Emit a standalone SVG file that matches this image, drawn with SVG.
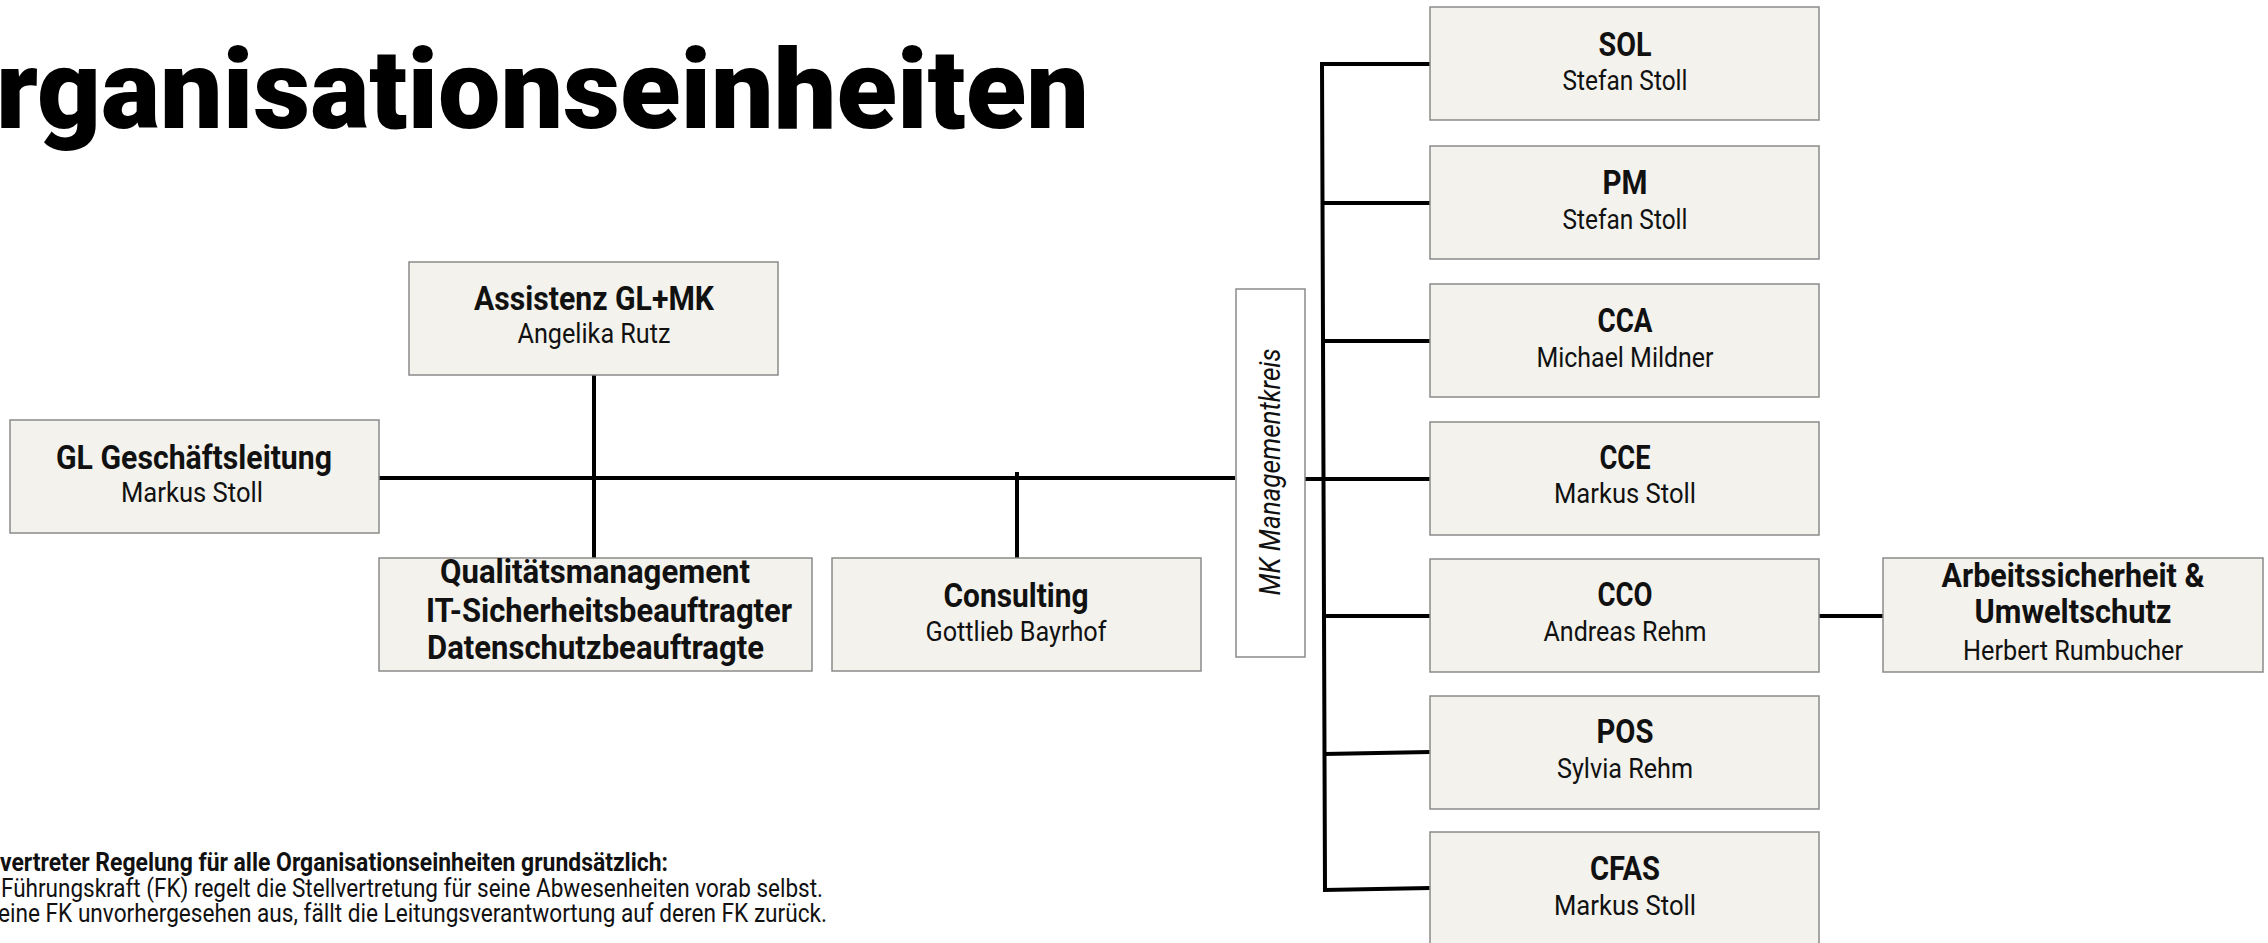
<svg xmlns="http://www.w3.org/2000/svg" width="2268" height="943" viewBox="0 0 2268 943">
<style>
.bg{fill:#ffffff}
.box{fill:#f3f2ec;stroke:#8a8a8a;stroke-width:1.5}
.mk{fill:#ffffff;stroke:#8a8a8a;stroke-width:1.5}
.t{font-family:Roboto,"Liberation Sans",sans-serif;font-weight:700;font-size:32.5px;fill:#111;text-anchor:middle}
.n{font-family:Roboto,"Liberation Sans",sans-serif;font-weight:400;font-size:28px;fill:#111;text-anchor:middle}
.ts{font-family:Roboto,"Liberation Sans",sans-serif;font-weight:700;font-size:32.5px;fill:#111}
.title{font-family:Roboto,"Liberation Sans",sans-serif;font-weight:900;font-size:112px;fill:#000}
.note{font-family:Roboto,"Liberation Sans",sans-serif;font-size:25px;fill:#111}
.mkt{font-family:Roboto,"Liberation Sans",sans-serif;font-style:italic;font-size:29px;fill:#111;text-anchor:middle}
.c{stroke:#000;stroke-width:4;fill:none}
</style>
<rect class="bg" x="0" y="0" width="2268" height="943"/>
<text class="title" x="-4" y="128" textLength="1093" lengthAdjust="spacingAndGlyphs">rganisationseinheiten</text>

<g id="connectors">
<line class="c" x1="379" y1="478" x2="1235" y2="478"/>
<line class="c" x1="594" y1="375" x2="594" y2="558"/>
<line class="c" x1="1017" y1="472" x2="1017" y2="558"/>
<line class="c" x1="1305" y1="479" x2="1430" y2="479"/>
<polyline class="c" points="1430,64 1322,64 1325,890 1430,888"/>
<line class="c" x1="1322" y1="203" x2="1430" y2="203"/>
<line class="c" x1="1323" y1="341" x2="1430" y2="341"/>
<line class="c" x1="1324" y1="616" x2="1430" y2="616"/>
<line class="c" x1="1324" y1="754" x2="1430" y2="752"/>
<line class="c" x1="1819" y1="616" x2="1883" y2="616"/>
</g>

<g id="gl">
<rect class="box" x="10" y="420" width="369" height="113"/>
<text class="t" x="194" y="469" textLength="276" lengthAdjust="spacingAndGlyphs">GL Geschäftsleitung</text>
<text class="n" x="192" y="502" textLength="142" lengthAdjust="spacingAndGlyphs">Markus Stoll</text>
</g>
<g id="assistenz">
<rect class="box" x="409" y="262" width="369" height="113"/>
<text class="t" x="594" y="310" textLength="240" lengthAdjust="spacingAndGlyphs">Assistenz GL+MK</text>
<text class="n" x="594" y="343" textLength="153" lengthAdjust="spacingAndGlyphs">Angelika Rutz</text>
</g>
<g id="qm">
<rect class="box" x="379" y="558" width="433" height="113"/>
<text class="ts" x="440" y="583" textLength="310" lengthAdjust="spacingAndGlyphs">Qualitätsmanagement</text>
<text class="ts" x="426" y="622" textLength="366" lengthAdjust="spacingAndGlyphs">IT-Sicherheitsbeauftragter</text>
<text class="ts" x="427" y="659" textLength="337" lengthAdjust="spacingAndGlyphs">Datenschutzbeauftragte</text>
</g>
<g id="consulting">
<rect class="box" x="832" y="558" width="369" height="113"/>
<text class="t" x="1016" y="607" textLength="145" lengthAdjust="spacingAndGlyphs">Consulting</text>
<text class="n" x="1016" y="641" textLength="181" lengthAdjust="spacingAndGlyphs">Gottlieb Bayrhof</text>
</g>
<g id="mk">
<rect class="mk" x="1236" y="289" width="69" height="368"/>
<text class="mkt" transform="translate(1280,472) rotate(-90)" x="0" y="0" textLength="247" lengthAdjust="spacingAndGlyphs">MK Managementkreis</text>
</g>
<g id="sol">
<rect class="box" x="1430" y="7" width="389" height="113"/>
<text class="t" x="1625" y="56" textLength="53" lengthAdjust="spacingAndGlyphs">SOL</text>
<text class="n" x="1625" y="90" textLength="125" lengthAdjust="spacingAndGlyphs">Stefan Stoll</text>
</g>
<g id="pm">
<rect class="box" x="1430" y="146" width="389" height="113"/>
<text class="t" x="1625" y="194" textLength="45" lengthAdjust="spacingAndGlyphs">PM</text>
<text class="n" x="1625" y="229" textLength="125" lengthAdjust="spacingAndGlyphs">Stefan Stoll</text>
</g>
<g id="cca">
<rect class="box" x="1430" y="284" width="389" height="113"/>
<text class="t" x="1625" y="332" textLength="55" lengthAdjust="spacingAndGlyphs">CCA</text>
<text class="n" x="1625" y="367" textLength="177" lengthAdjust="spacingAndGlyphs">Michael Mildner</text>
</g>
<g id="cce">
<rect class="box" x="1430" y="422" width="389" height="113"/>
<text class="t" x="1625" y="469" textLength="51" lengthAdjust="spacingAndGlyphs">CCE</text>
<text class="n" x="1625" y="503" textLength="142" lengthAdjust="spacingAndGlyphs">Markus Stoll</text>
</g>
<g id="cco">
<rect class="box" x="1430" y="559" width="389" height="113"/>
<text class="t" x="1625" y="606" textLength="55" lengthAdjust="spacingAndGlyphs">CCO</text>
<text class="n" x="1625" y="641" textLength="163" lengthAdjust="spacingAndGlyphs">Andreas Rehm</text>
</g>
<g id="pos">
<rect class="box" x="1430" y="696" width="389" height="113"/>
<text class="t" x="1625" y="743" textLength="57" lengthAdjust="spacingAndGlyphs">POS</text>
<text class="n" x="1625" y="778" textLength="136" lengthAdjust="spacingAndGlyphs">Sylvia Rehm</text>
</g>
<g id="cfas">
<rect class="box" x="1430" y="832" width="389" height="113"/>
<text class="t" x="1625" y="880" textLength="70" lengthAdjust="spacingAndGlyphs">CFAS</text>
<text class="n" x="1625" y="915" textLength="142" lengthAdjust="spacingAndGlyphs">Markus Stoll</text>
</g>
<g id="arbeitssicherheit">
<rect class="box" x="1883" y="558" width="380" height="114"/>
<text class="t" x="2073" y="587" textLength="263" lengthAdjust="spacingAndGlyphs">Arbeitssicherheit &amp;</text>
<text class="t" x="2073" y="623" textLength="197" lengthAdjust="spacingAndGlyphs">Umweltschutz</text>
<text class="n" x="2073" y="660" textLength="220" lengthAdjust="spacingAndGlyphs">Herbert Rumbucher</text>
</g>

<g id="note">
<text class="note" x="0" y="871" font-weight="700" textLength="668" lengthAdjust="spacingAndGlyphs">vertreter Regelung für alle Organisationseinheiten grundsätzlich:</text>
<text class="note" x="1" y="897" textLength="822" lengthAdjust="spacingAndGlyphs">Führungskraft (FK) regelt die Stellvertretung für seine Abwesenheiten vorab selbst.</text>
<text class="note" x="-2" y="922" textLength="829" lengthAdjust="spacingAndGlyphs">eine FK unvorhergesehen aus, fällt die Leitungsverantwortung auf deren FK zurück.</text>
</g>
</svg>
